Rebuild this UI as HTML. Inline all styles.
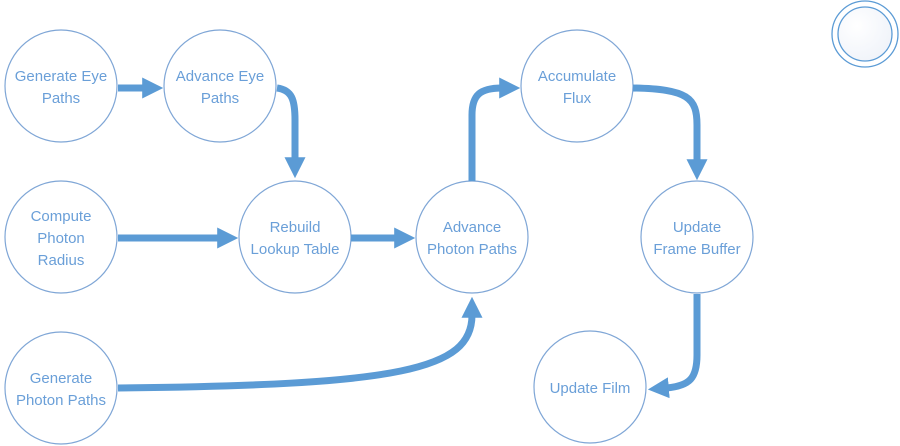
<!DOCTYPE html>
<html><head><style>body{margin:0;background:#fff}svg{display:block}</style></head><body>
<svg width="900" height="446" viewBox="0 0 900 446" xmlns="http://www.w3.org/2000/svg">
<defs>
<marker id="a" markerWidth="3" markerHeight="3" refX="0.4" refY="1.5" orient="auto" markerUnits="strokeWidth">
<path d="M0,0 L3,1.5 L0,3 z" fill="#5b9bd5"/>
</marker>
<radialGradient id="g" cx="0.35" cy="0.35" r="0.8"><stop offset="0" stop-color="#fff"/><stop offset="1" stop-color="#eef2f9"/></radialGradient>
</defs>
<g fill="#fff" stroke="#7fa6d6" stroke-width="1.2">
<circle cx="61" cy="86" r="56"/>
<circle cx="220" cy="86" r="56"/>
<circle cx="61" cy="237" r="56"/>
<circle cx="295" cy="237" r="56"/>
<circle cx="472" cy="237" r="56"/>
<circle cx="577" cy="86" r="56"/>
<circle cx="697" cy="237" r="56"/>
<circle cx="590" cy="387" r="56"/>
<circle cx="61" cy="388" r="56"/>
</g>
<circle cx="865" cy="34" r="33" fill="#fff" stroke="#5b9bd5" stroke-width="1.3"/>
<circle cx="865" cy="34" r="27" fill="url(#g)" stroke="#5b9bd5" stroke-width="1.3"/>
<g fill="none" stroke="#5b9bd5" stroke-width="7" marker-end="url(#a)">
<path d="M118,88 L145,88"/>
<path d="M277,88 C292,90 295,100 295,120 L295,160"/>
<path d="M118,238 L220,238"/>
<path d="M351,238 L397,238"/>
<path d="M472,181 L472,115 C472,95 480,88 502,88"/>
<path d="M633,88 C688,89 697,98 697,125 L697,162"/>
<path d="M697,294 L697,355 C697,378 690,386 666,388"/>
<path d="M118,388 C400,385 472,370 472,315"/>
</g>
<g font-family="Liberation Sans, sans-serif" font-size="15" fill="#6a9fd8" text-anchor="middle">
<text x="61" y="81">Generate Eye</text><text x="61" y="103">Paths</text>
<text x="220" y="81">Advance Eye</text><text x="220" y="103">Paths</text>
<text x="61" y="221">Compute</text><text x="61" y="243">Photon</text><text x="61" y="265">Radius</text>
<text x="295" y="232">Rebuild</text><text x="295" y="254">Lookup Table</text>
<text x="472" y="232">Advance</text><text x="472" y="254">Photon Paths</text>
<text x="577" y="81">Accumulate</text><text x="577" y="103">Flux</text>
<text x="697" y="232">Update</text><text x="697" y="254">Frame Buffer</text>
<text x="590" y="393">Update Film</text>
<text x="61" y="383">Generate</text><text x="61" y="405">Photon Paths</text>
</g>
</svg>
</body></html>
